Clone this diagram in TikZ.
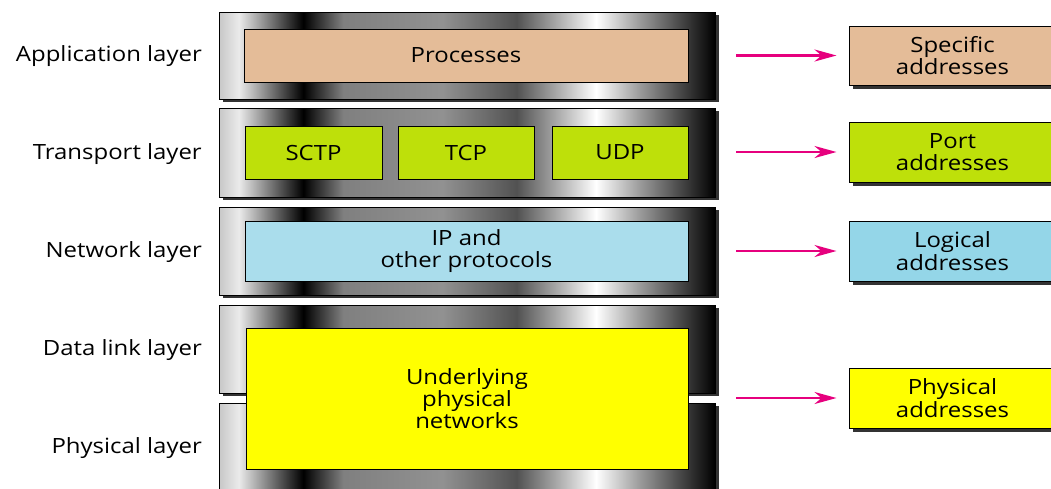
\documentclass[tikz,border=0pt]{standalone}
\usepackage{fontspec}
\setmainfont[FakeStretch=1.14]{Open Sans}
\usetikzlibrary{arrows.meta,shadows}
\definecolor{tan}{RGB}{228,188,152}
\definecolor{lime}{RGB}{190,224,10}
\definecolor{ipblue}{RGB}{170,221,236}
\definecolor{logblue}{RGB}{148,214,232}
\definecolor{pinkar}{RGB}{230,0,126}
\definecolor{pureyellow}{RGB}{255,255,0}
\pgfdeclarehorizontalshading{barshade}{100bp}{color(0bp)=(black!22); color(25bp)=(black!22); color(27bp)=(black!8); color(33.5bp)=(black); color(37.5bp)=(black!50); color(47.5bp)=(black!43); color(55bp)=(black!68); color(63bp)=(white); color(67.5bp)=(black!40); color(75bp)=(black); color(100bp)=(black)}
\tikzset{
  layerbar/.style={draw=black, line width=0.9pt, shading=barshade, inner sep=0pt,
    minimum width=496pt, drop shadow={shadow xshift=4pt, shadow yshift=-3pt, opacity=1, fill=black!80}},
  inbox/.style={draw=black, line width=1pt, inner sep=0pt, align=center, font=\fontsize{21}{22}\selectfont},
  addrbox/.style={draw=black, line width=1pt, inner sep=0pt, align=center, minimum width=207pt, minimum height=60pt,
    font=\fontsize{21}{22.5}\selectfont, drop shadow={shadow xshift=4pt, shadow yshift=-4pt, opacity=1, fill=black!80}},
  layerlabel/.style={anchor=east, inner sep=0pt, font=\fontsize{21}{22}\selectfont},
  maparrow/.style={draw=pinkar, line width=2.4pt, -{Stealth[length=22pt, width=12pt, inset=7pt]}, shorten <=21pt, shorten >=12pt}
}
\begin{document}
\begin{tikzpicture}[x=1pt, y=-1pt]
\useasboundingbox (0,0) rectangle (1051,488);
\clip (0,0) rectangle (1051,488);
% layer bars
\node[layerbar, minimum height=87pt] (bar1) at (467,55.5) {};
\node[layerbar, minimum height=89pt] (bar2) at (467,152.5) {};
\node[layerbar, minimum height=88pt] (bar3) at (467,251) {};
\node[layerbar, minimum height=88pt] (bar4) at (467,349) {};
\node[layerbar, minimum height=88pt] (bar5) at (467,447) {};
% inner boxes
\node[inbox, fill=tan, minimum width=444pt, minimum height=53pt] (proc) at (466,55.5) {Processes};
\node[inbox, fill=lime, minimum width=137pt, minimum height=53pt] (sctp) at (313.5,152.5) {SCTP};
\node[inbox, fill=lime, minimum width=136pt, minimum height=53pt] (tcp) at (466,152.5) {TCP};
\node[inbox, fill=lime, minimum width=136pt, minimum height=53pt] (udp) at (620,152.5) {UDP};
\node[inbox, fill=ipblue, minimum width=443pt, minimum height=60pt] (ip) at (466.5,251) {IP and\\other protocols};
\node[inbox, fill=pureyellow, minimum width=442pt, minimum height=141pt] (phys) at (467,398.5) {Underlying\\physical\\networks};
% layer labels
\node[layerlabel] (l1) at (202,56) {Application layer};
\node[layerlabel] (l2) at (202,154) {Transport layer};
\node[layerlabel] (l3) at (202,252) {Network layer};
\node[layerlabel] (l4) at (202,350) {Data link layer};
\node[layerlabel] (l5) at (202,448) {Physical layer};
% address boxes
\node[addrbox, fill=tan, minimum height=59pt] (spec) at (952.5,55.5) {Specific\\addresses};
\node[addrbox, fill=lime] (port) at (952.5,152) {Port\\addresses};
\node[addrbox, fill=logblue] (logi) at (952.5,251) {Logical\\addresses};
\node[addrbox, fill=pureyellow] (phad) at (952.5,398) {Physical\\addresses};
% arrows
\coordinate (s1) at (bar1.east |- spec.west);
\coordinate (s2) at (bar2.east |- port.west);
\coordinate (s3) at (bar3.east |- logi.west);
\coordinate (s4) at (bar4.east |- phad.west);
\draw[maparrow] (s1) -- (spec.west);
\draw[maparrow] (s2) -- (port.west);
\draw[maparrow] (s3) -- (logi.west);
\draw[maparrow] (s4) -- (phad.west);
\end{tikzpicture}
\end{document}
